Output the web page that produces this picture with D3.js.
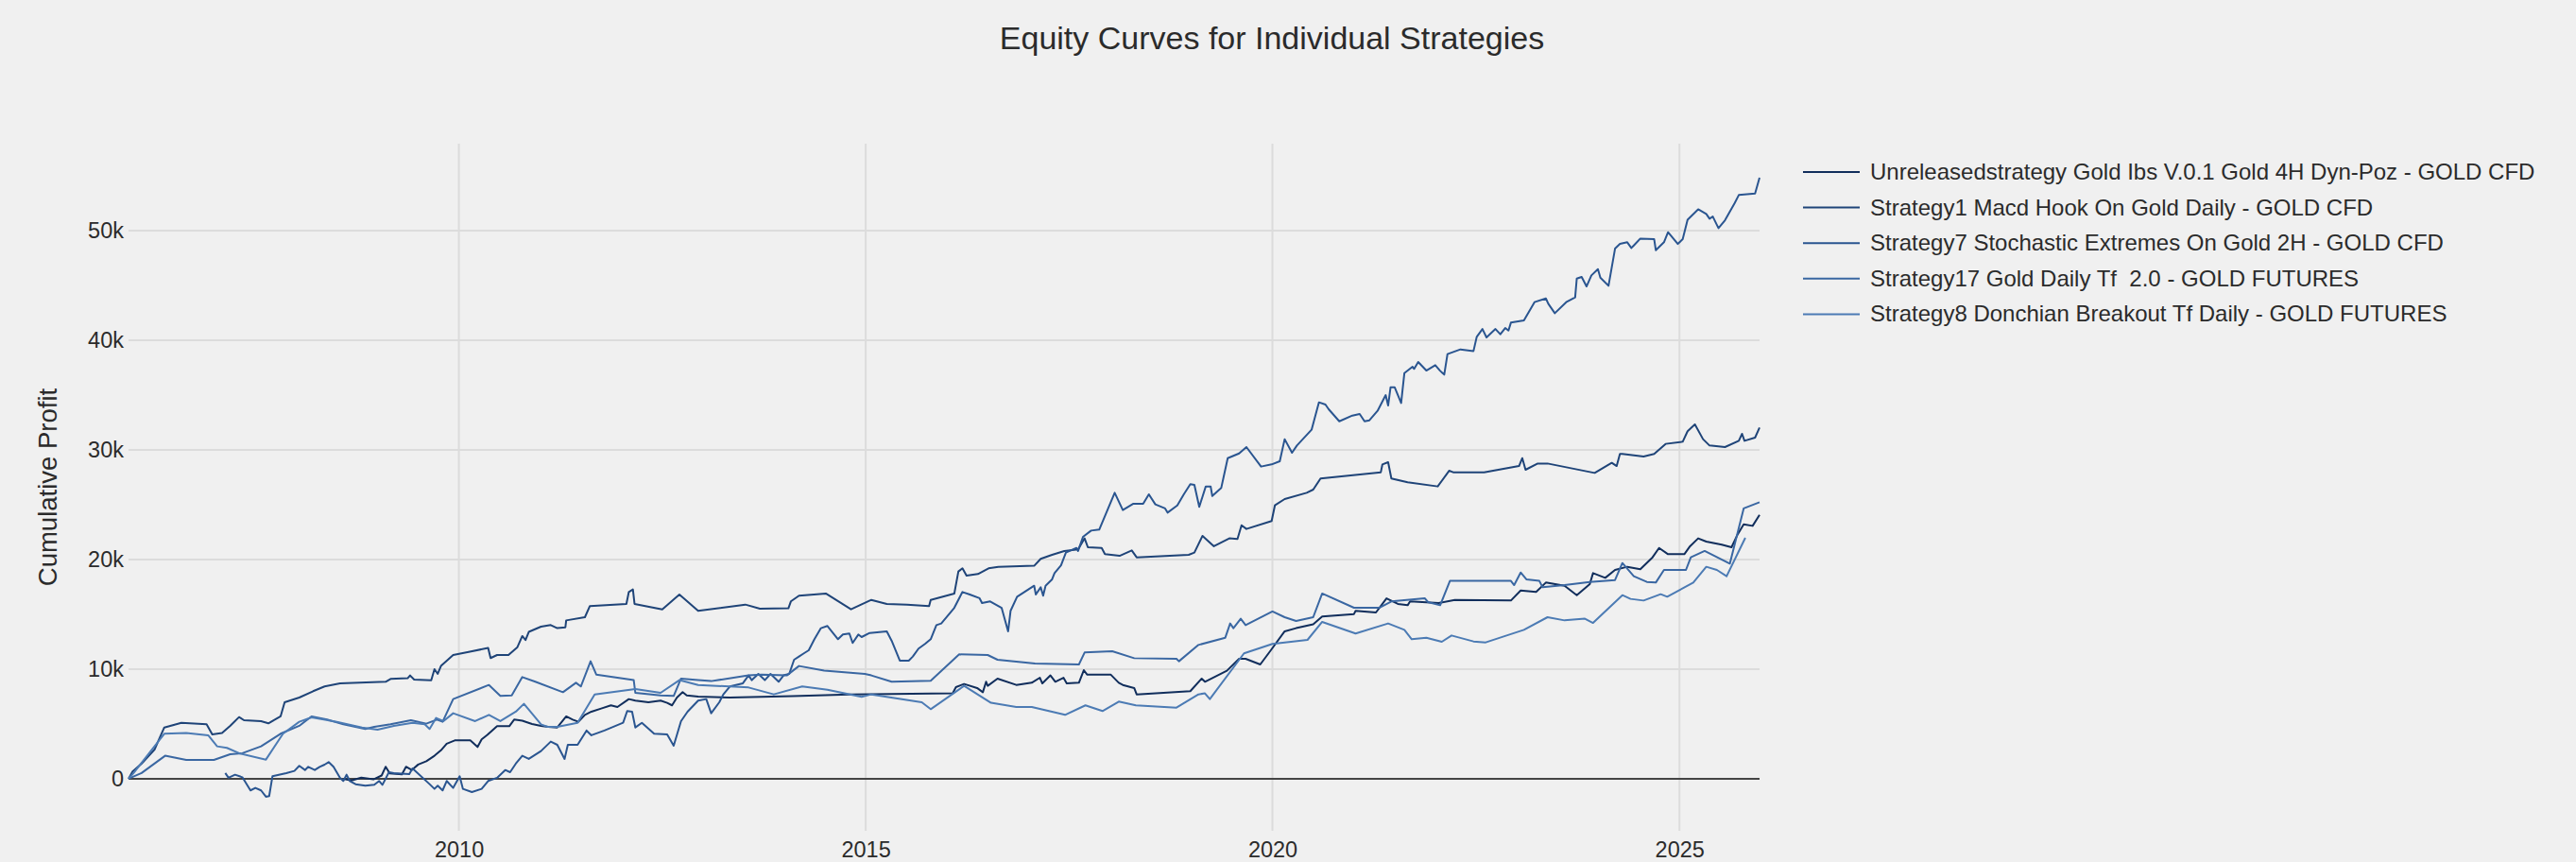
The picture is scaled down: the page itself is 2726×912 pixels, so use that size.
<!DOCTYPE html>
<html>
<head>
<meta charset="utf-8">
<script src="https://cdn.jsdelivr.net/npm/d3@7"></script>
<style>
  body { margin: 0; background: #f0f0f0; }
  text { font-family: "Liberation Sans", Arial, sans-serif; fill: #2b2b2b; }
</style>
</head>
<body>
<div id="chart"></div>
<script>
// series labels + colours (legend order)
const seriesNames = [
    "Unreleasedstrategy Gold Ibs V.0.1 Gold 4H Dyn-Poz - GOLD CFD",
    "Strategy1 Macd Hook On Gold Daily - GOLD CFD",
    "Strategy7 Stochastic Extremes On Gold 2H - GOLD CFD",
    "Strategy17 Gold Daily Tf  2.0 - GOLD FUTURES",
    "Strategy8 Donchian Breakout Tf Daily - GOLD FUTURES"
];
const seriesColors = ["#112e5c", "#1f4478", "#2a5590", "#3a67a2", "#4c7bb4"];

// dates as decimal years, profits in thousands
const unreleasedDates = [2008.58, 2008.68, 2008.8, 2008.95, 2009.05, 2009.1, 2009.15, 2009.3, 2009.35, 2009.42, 2009.5, 2009.6, 2009.7, 2009.78, 2009.85, 2009.95, 2010.14, 2010.23, 2010.28, 2010.35, 2010.47, 2010.62, 2010.68, 2010.78, 2010.9, 2011.01, 2011.1, 2011.21, 2011.32, 2011.4, 2011.47, 2011.55, 2011.63, 2011.75, 2011.87, 2011.95, 2012.09, 2012.17, 2012.33, 2012.48, 2012.56, 2012.62, 2012.68, 2012.75, 2012.8, 2012.94, 2013.33, 2014.1, 2014.8, 2016.07, 2016.11, 2016.21, 2016.37, 2016.44, 2016.48, 2016.5, 2016.62, 2016.85, 2017.04, 2017.14, 2017.17, 2017.27, 2017.33, 2017.43, 2017.47, 2017.62, 2017.68, 2017.72, 2018.01, 2018.11, 2018.16, 2018.3, 2018.33, 2018.99, 2019.13, 2019.17, 2019.44, 2019.59, 2019.67, 2019.85, 2019.98, 2020.15, 2020.29, 2020.37, 2020.5, 2020.61, 2021.0, 2021.02, 2021.27, 2021.4, 2021.54, 2021.66, 2021.69, 2022.04, 2022.24, 2022.93, 2023.05, 2023.24, 2023.36, 2023.59, 2023.74, 2023.9, 2023.94, 2024.09, 2024.21, 2024.36, 2024.52, 2024.67, 2024.75, 2024.86, 2025.06, 2025.13, 2025.23, 2025.33, 2025.52, 2025.64, 2025.71, 2025.79, 2025.9, 2025.985];
const unreleasedValues = [0, -0.15, 0.1, -0.05, 0.3, 1.1, 0.5, 0.4, 1.1, 0.8, 1.3, 1.6, 2.1, 2.6, 3.2, 3.5, 3.5, 2.9, 3.6, 4.0, 4.8, 4.8, 5.4, 5.3, 5.0, 4.83, 4.74, 4.68, 5.69, 5.4, 5.2, 5.83, 6.12, 6.41, 6.7, 6.55, 7.27, 7.13, 6.98, 7.13, 6.93, 6.7, 7.41, 7.9, 7.6, 7.5, 7.41, 7.55, 7.7, 7.8, 8.36, 8.65, 8.28, 7.9, 8.85, 8.48, 9.14, 8.56, 8.76, 9.22, 8.7, 9.43, 8.85, 9.22, 8.7, 8.76, 9.91, 9.51, 9.51, 8.76, 8.56, 8.28, 7.7, 7.99, 9.14, 8.85, 9.86, 10.95, 10.95, 10.43, 11.72, 13.45, 13.74, 13.88, 14.1, 14.8, 15.03, 15.32, 15.17, 16.46, 15.95, 15.83, 16.18, 16.03, 16.32, 16.26, 17.18, 17.04, 17.9, 17.61, 16.75, 17.76, 18.76, 18.33, 19.05, 19.34, 19.11, 20.2, 21.06, 20.49, 20.49, 21.21, 21.93, 21.64, 21.35, 21.12, 22.21, 23.22, 23.07, 24.07];

const macdDates = [2005.94, 2005.99, 2006.1, 2006.26, 2006.38, 2006.59, 2006.9, 2006.97, 2007.09, 2007.19, 2007.3, 2007.36, 2007.57, 2007.66, 2007.81, 2007.86, 2008.04, 2008.21, 2008.35, 2008.54, 2009.1, 2009.16, 2009.37, 2009.4, 2009.45, 2009.66, 2009.7, 2009.74, 2009.78, 2009.93, 2010.12, 2010.36, 2010.39, 2010.47, 2010.61, 2010.72, 2010.78, 2010.82, 2010.86, 2011.01, 2011.13, 2011.21, 2011.31, 2011.32, 2011.55, 2011.61, 2012.06, 2012.09, 2012.14, 2012.16, 2012.5, 2012.71, 2012.94, 2013.52, 2013.7, 2014.05, 2014.08, 2014.18, 2014.51, 2014.82, 2015.07, 2015.26, 2015.51, 2015.78, 2015.8, 2016.09, 2016.14, 2016.19, 2016.24, 2016.38, 2016.51, 2016.63, 2017.07, 2017.15, 2017.29, 2017.44, 2017.61, 2017.69, 2017.73, 2017.9, 2017.94, 2018.12, 2018.27, 2018.33, 2018.97, 2019.04, 2019.14, 2019.28, 2019.47, 2019.57, 2019.62, 2019.68, 2019.99, 2020.03, 2020.15, 2020.42, 2020.5, 2020.59, 2021.33, 2021.35, 2021.42, 2021.46, 2021.66, 2022.03, 2022.17, 2022.22, 2022.6, 2023.03, 2023.07, 2023.11, 2023.26, 2023.38, 2023.96, 2024.17, 2024.23, 2024.27, 2024.3, 2024.56, 2024.69, 2024.83, 2025.04, 2025.1, 2025.19, 2025.29, 2025.37, 2025.56, 2025.73, 2025.77, 2025.8, 2025.93, 2025.985];
const macdValues = [0, 0.66, 1.38, 2.67, 4.68, 5.11, 4.97, 4.05, 4.17, 4.83, 5.63, 5.34, 5.26, 5.06, 5.69, 6.98, 7.41, 7.99, 8.42, 8.71, 8.85, 9.11, 9.17, 9.43, 9.05, 8.99, 10.0, 9.57, 10.29, 11.29, 11.58, 11.93, 11.01, 11.29, 11.29, 12.01, 13.02, 12.65, 13.4, 13.88, 14.02, 13.74, 13.82, 14.45, 14.74, 15.75, 15.95, 17.04, 17.27, 15.95, 15.46, 16.81, 15.32, 15.89, 15.52, 15.55, 16.18, 16.7, 16.9, 15.46, 16.32, 15.95, 15.89, 15.75, 16.32, 16.9, 18.91, 19.2, 18.53, 18.68, 19.2, 19.34, 19.43, 20.06, 20.43, 20.78, 20.92, 21.93, 21.12, 21.06, 20.49, 20.34, 20.83, 20.2, 20.43, 20.63, 22.16, 21.21, 21.93, 21.87, 23.13, 22.79, 23.51, 24.94, 25.52, 26.09, 26.38, 27.39, 27.96, 28.68, 28.88, 27.39, 27.04, 26.67, 28.1, 27.96, 27.96, 28.53, 29.25, 28.19, 28.76, 28.76, 27.9, 28.82, 28.53, 29.63, 29.63, 29.4, 29.63, 30.55, 30.75, 31.7, 32.33, 30.98, 30.4, 30.26, 30.83, 31.47, 30.83, 31.12, 32.04];

const stochDates = [2007.13, 2007.17, 2007.25, 2007.34, 2007.44, 2007.5, 2007.57, 2007.63, 2007.67, 2007.71, 2007.88, 2007.98, 2008.04, 2008.11, 2008.15, 2008.23, 2008.29, 2008.35, 2008.4, 2008.46, 2008.54, 2008.58, 2008.62, 2008.66, 2008.73, 2008.85, 2008.96, 2009.02, 2009.06, 2009.14, 2009.2, 2009.39, 2009.43, 2009.64, 2009.7, 2009.74, 2009.8, 2009.85, 2009.93, 2010.01, 2010.05, 2010.16, 2010.28, 2010.36, 2010.47, 2010.57, 2010.63, 2010.7, 2010.78, 2010.86, 2011.01, 2011.13, 2011.21, 2011.3, 2011.34, 2011.46, 2011.57, 2011.63, 2011.79, 2012.02, 2012.07, 2012.13, 2012.17, 2012.25, 2012.4, 2012.56, 2012.64, 2012.73, 2012.81, 2012.94, 2013.04, 2013.1, 2013.2, 2013.25, 2013.33, 2013.49, 2013.56, 2013.6, 2013.68, 2013.76, 2013.83, 2013.93, 2013.99, 2014.06, 2014.12, 2014.18, 2014.24, 2014.3, 2014.37, 2014.45, 2014.53, 2014.66, 2014.72, 2014.8, 2014.84, 2014.91, 2014.95, 2015.05, 2015.26, 2015.32, 2015.42, 2015.53, 2015.58, 2015.65, 2015.73, 2015.8, 2015.87, 2015.93, 2016.09, 2016.19, 2016.28, 2016.4, 2016.43, 2016.53, 2016.67, 2016.75, 2016.78, 2016.86, 2017.07, 2017.09, 2017.15, 2017.18, 2017.21, 2017.29, 2017.32, 2017.4, 2017.46, 2017.59, 2017.61, 2017.67, 2017.77, 2017.87, 2018.06, 2018.16, 2018.29, 2018.41, 2018.48, 2018.56, 2018.68, 2018.71, 2018.83, 2018.91, 2018.99, 2019.04, 2019.1, 2019.18, 2019.24, 2019.26, 2019.37, 2019.45, 2019.59, 2019.68, 2019.86, 2019.99, 2020.09, 2020.15, 2020.24, 2020.3, 2020.48, 2020.57, 2020.65, 2020.69, 2020.82, 2020.98, 2021.07, 2021.13, 2021.19, 2021.29, 2021.36, 2021.39, 2021.42, 2021.45, 2021.5, 2021.58, 2021.62, 2021.72, 2021.74, 2021.79, 2021.89, 2022.0, 2022.06, 2022.11, 2022.15, 2022.31, 2022.47, 2022.51, 2022.58, 2022.63, 2022.74, 2022.8, 2022.86, 2022.9, 2022.93, 2023.09, 2023.22, 2023.36, 2023.39, 2023.47, 2023.61, 2023.72, 2023.74, 2023.8, 2023.86, 2023.92, 2024.0, 2024.03, 2024.13, 2024.21, 2024.27, 2024.36, 2024.41, 2024.44, 2024.52, 2024.69, 2024.71, 2024.81, 2024.86, 2024.98, 2025.04, 2025.1, 2025.23, 2025.33, 2025.37, 2025.41, 2025.48, 2025.56, 2025.68, 2025.73, 2025.93, 2025.985];
const stochValues = [0.52, 0.09, 0.37, 0.14, -1.06, -0.83, -1.06, -1.64, -1.58, 0.23, 0.52, 0.72, 1.18, 0.8, 1.09, 0.8, 1.09, 1.29, 1.52, 1.09, 0.09, -0.2, 0.37, -0.2, -0.49, -0.63, -0.55, -0.2, -0.55, 0.6, 0.52, 0.43, 0.95, -0.49, -0.92, -0.63, -1.06, -0.2, -0.83, 0.23, -0.92, -1.21, -0.92, -0.2, 0.09, 0.8, 0.6, 1.38, 2.1, 1.81, 2.53, 3.39, 3.1, 1.81, 3.1, 3.1, 4.4, 3.97, 4.4, 5.11, 6.18, 6.12, 4.68, 5.11, 4.11, 4.05, 3.02, 5.26, 6.12, 7.13, 7.27, 5.98, 6.98, 7.7, 8.42, 8.71, 9.43, 9.0, 9.57, 9.0, 9.57, 8.85, 9.43, 9.57, 10.86, 11.15, 11.44, 11.72, 12.73, 13.74, 13.94, 12.73, 13.16, 13.25, 12.39, 13.16, 12.93, 13.3, 13.45, 12.59, 10.78, 10.78, 11.15, 11.87, 12.3, 12.73, 14.02, 14.17, 15.6, 17.04, 16.81, 16.47, 16.03, 16.18, 15.6, 13.45, 15.32, 16.61, 17.61, 16.81, 17.47, 16.7, 17.61, 18.19, 18.76, 19.48, 20.63, 21.06, 20.78, 22.07, 22.64, 22.73, 26.09, 24.51, 25.09, 25.09, 25.95, 25.03, 24.66, 24.28, 24.94, 25.95, 26.87, 26.81, 24.8, 26.67, 26.67, 25.8, 26.52, 29.25, 29.68, 30.26, 28.48, 28.68, 28.97, 30.98, 29.74, 30.4, 31.84, 34.34, 34.14, 33.71, 32.61, 33.13, 33.28, 32.61, 32.7, 33.56, 34.57, 35.0, 34.05, 35.72, 35.72, 34.28, 37.01, 37.59, 37.39, 38.02, 37.24, 37.73, 37.21, 36.87, 38.74, 39.17, 39.02, 40.32, 41.03, 40.26, 41.03, 40.55, 41.12, 40.89, 41.61, 41.81, 43.48, 43.82, 43.33, 42.47, 43.48, 43.91, 45.63, 45.78, 44.91, 45.92, 46.49, 45.72, 44.97, 48.36, 48.79, 48.94, 48.42, 48.65, 49.28, 49.22, 48.22, 48.94, 49.86, 48.79, 49.22, 51.0, 51.95, 51.52, 51.09, 51.29, 50.23, 50.95, 52.53, 53.25, 53.39, 54.83];

const dailyTfDates = [2005.94, 2006.1, 2006.39, 2006.65, 2006.99, 2007.19, 2007.34, 2007.57, 2007.81, 2008.04, 2008.19, 2008.38, 2008.58, 2008.85, 2008.96, 2009.16, 2009.41, 2009.6, 2009.73, 2009.8, 2009.93, 2010.37, 2010.51, 2010.65, 2010.78, 2010.94, 2011.28, 2011.44, 2011.5, 2011.62, 2011.69, 2012.15, 2012.17, 2012.48, 2012.64, 2012.73, 2012.94, 2013.1, 2013.56, 2013.72, 2014.03, 2014.18, 2014.49, 2014.99, 2015.07, 2015.32, 2015.8, 2016.15, 2016.5, 2016.62, 2017.08, 2017.62, 2017.69, 2018.03, 2018.3, 2018.82, 2018.85, 2019.09, 2019.42, 2019.48, 2019.52, 2019.61, 2019.67, 2020.0, 2020.15, 2020.29, 2020.5, 2020.61, 2021.0, 2021.31, 2021.46, 2021.87, 2021.91, 2022.06, 2022.18, 2022.93, 2022.97, 2023.05, 2023.12, 2023.28, 2023.32, 2023.59, 2023.9, 2024.21, 2024.3, 2024.44, 2024.6, 2024.71, 2024.81, 2025.08, 2025.14, 2025.31, 2025.62, 2025.79, 2025.985];
const dailyTfValues = [0, 0.52, 2.1, 1.72, 1.72, 2.24, 2.33, 2.96, 4.11, 4.83, 5.69, 5.4, 4.97, 4.54, 4.74, 4.97, 5.34, 5.03, 5.4, 5.2, 7.27, 8.56, 7.56, 7.6, 9.28, 8.85, 7.9, 8.76, 8.42, 10.72, 9.51, 9.0, 7.84, 7.61, 7.56, 9.14, 9.0, 8.91, 9.43, 9.51, 9.43, 10.29, 9.86, 9.57, 9.43, 8.85, 8.94, 11.35, 11.29, 10.86, 10.52, 10.43, 11.52, 11.64, 11.0, 10.95, 10.72, 12.21, 12.87, 14.17, 13.74, 14.6, 14.02, 15.26, 14.74, 14.4, 14.74, 16.9, 15.6, 15.6, 16.18, 16.47, 16.12, 15.83, 18.05, 18.05, 17.67, 18.82, 18.19, 18.05, 17.47, 17.67, 17.96, 18.13, 19.68, 18.48, 17.96, 17.9, 19.05, 19.05, 20.2, 20.78, 19.63, 24.66, 25.23];

const donchianDates = [2005.94, 2006.0, 2006.38, 2006.65, 2006.92, 2007.03, 2007.15, 2007.3, 2007.63, 2007.84, 2008.04, 2008.19, 2008.5, 2008.81, 2009.0, 2009.2, 2009.43, 2009.58, 2009.64, 2009.72, 2009.81, 2009.93, 2010.2, 2010.37, 2010.51, 2010.7, 2010.8, 2011.01, 2011.09, 2011.21, 2011.46, 2011.67, 2012.17, 2012.48, 2012.71, 2012.94, 2013.56, 2013.87, 2014.22, 2014.53, 2014.95, 2015.07, 2015.69, 2015.8, 2016.21, 2016.54, 2016.85, 2017.04, 2017.45, 2017.7, 2017.91, 2018.11, 2018.32, 2018.82, 2019.09, 2019.17, 2019.23, 2019.65, 2020.0, 2020.43, 2020.61, 2021.02, 2021.42, 2021.62, 2021.71, 2021.89, 2022.08, 2022.2, 2022.47, 2022.62, 2023.09, 2023.38, 2023.59, 2023.84, 2023.94, 2024.3, 2024.4, 2024.56, 2024.77, 2024.85, 2025.17, 2025.33, 2025.46, 2025.58, 2025.81];
const donchianValues = [0, 0.5, 4.11, 4.17, 3.97, 2.96, 2.82, 2.33, 1.75, 4.11, 5.2, 5.6, 5.2, 4.68, 4.48, 4.83, 5.11, 4.97, 4.54, 5.55, 5.26, 5.98, 5.26, 5.83, 5.26, 6.12, 6.84, 4.97, 4.74, 4.74, 5.11, 7.7, 8.19, 7.84, 9.0, 8.56, 8.33, 7.7, 8.42, 8.13, 7.47, 7.7, 6.98, 6.35, 8.48, 6.93, 6.55, 6.55, 5.83, 6.7, 6.18, 7.04, 6.7, 6.49, 7.7, 7.79, 7.27, 11.44, 12.3, 12.67, 14.31, 13.25, 14.17, 13.59, 12.73, 12.87, 12.5, 13.07, 12.53, 12.44, 13.59, 14.74, 14.45, 14.6, 14.22, 16.75, 16.41, 16.26, 16.84, 16.61, 17.9, 19.34, 19.05, 18.48, 21.98];

const yTickValues = [0, 10, 20, 30, 40, 50];
const yTickLabels = ["0", "10k", "20k", "30k", "40k", "50k"];
const xTickYears = [2010, 2015, 2020, 2025];

function toDate(y) {
    const yr = Math.floor(y);
    const start = new Date(yr, 0, 1), end = new Date(yr + 1, 0, 1);
    return new Date(+start + (y - yr) * (end - start));
}

function pairUp(dates, values) {
    return dates.map((d, i) => ({ date: toDate(d), value: values[i] }));
}

const series = [
    pairUp(unreleasedDates, unreleasedValues),
    pairUp(macdDates, macdValues),
    pairUp(stochDates, stochValues),
    pairUp(dailyTfDates, dailyTfValues),
    pairUp(donchianDates, donchianValues)
];

const W = 2726, H = 912;
const margin = {top: 152, right: 864, bottom: 33, left: 136};
const width = W - margin.left - margin.right,
    height = H - margin.top - margin.bottom;

const svg = d3.select("#chart").append("svg")
    .attr("width", W)
    .attr("height", H)
    .style("background", "#f0f0f0");

const g = svg.append("g")
    .attr("transform", `translate(${margin.left}, ${margin.top})`);

const allPoints = series.flat();

// x: full data extent, like an autoranged time axis
const x = d3.scaleTime()
    .domain(d3.extent(allPoints, d => d.date))
    .range([0, width]);

// y: data extent plus a bit of padding on each side
const yMin = d3.min(allPoints, d => d.value), yMax = d3.max(allPoints, d => d.value);
const pad = (yMax - yMin) * 0.055;
const y = d3.scaleLinear()
    .domain([yMin - pad, yMax + pad])
    .range([height, 0]);

// grid
g.append("g")
    .selectAll("line")
    .data(yTickValues)
    .join("line")
    .attr("x1", 0).attr("x2", width)
    .attr("y1", d => y(d)).attr("y2", d => y(d))
    .attr("stroke", "#dcdcdc")
    .attr("stroke-width", 2);

g.append("g")
    .selectAll("line")
    .data(xTickYears)
    .join("line")
    .attr("x1", d => x(new Date(d, 0, 1))).attr("x2", d => x(new Date(d, 0, 1)))
    .attr("y1", 0).attr("y2", height)
    .attr("stroke", "#dcdcdc")
    .attr("stroke-width", 2);

// zero line
g.append("line")
    .attr("x1", 0).attr("x2", width)
    .attr("y1", y(0)).attr("y2", y(0))
    .attr("stroke", "#444")
    .attr("stroke-width", 2);

// axes
const yAxis = g.append("g")
    .call(d3.axisLeft(y)
        .tickValues(yTickValues)
        .tickFormat((d, i) => yTickLabels[i])
        .tickSize(0)
        .tickPadding(5));
yAxis.select(".domain").remove();
yAxis.selectAll("text")
    .style("font-size", "23.5px")
    .style("font-family", '"Liberation Sans", Arial, sans-serif')
    .attr("fill", "#2b2b2b");

const xAxis = g.append("g")
    .attr("transform", `translate(0, ${height})`)
    .call(d3.axisBottom(x)
        .tickValues(xTickYears.map(d => new Date(d, 0, 1)))
        .tickFormat(d3.timeFormat("%Y"))
        .tickSize(0)
        .tickPadding(11));
xAxis.select(".domain").remove();
xAxis.selectAll("text")
    .style("font-size", "23.5px")
    .style("font-family", '"Liberation Sans", Arial, sans-serif')
    .attr("fill", "#2b2b2b");

// curves
const line = d3.line()
    .x(d => x(d.date))
    .y(d => y(d.value));

g.selectAll("path.curve")
    .data(series)
    .join("path")
    .attr("class", "curve")
    .attr("d", line)
    .attr("fill", "none")
    .attr("stroke", (d, i) => seriesColors[i])
    .attr("stroke-width", 2)
    .attr("stroke-linejoin", "round");

// titles
svg.append("text")
    .attr("x", 1346)
    .attr("y", 52)
    .attr("text-anchor", "middle")
    .style("font-size", "34px")
    .text("Equity Curves for Individual Strategies");

svg.append("text")
    .attr("transform", `translate(60, ${margin.top + height / 2}) rotate(-90)`)
    .attr("text-anchor", "middle")
    .style("font-size", "27.5px")
    .text("Cumulative Profit");

// legend
const legend = svg.append("g")
    .attr("transform", "translate(1908, 182)");

const rows = legend.selectAll("g")
    .data(seriesNames)
    .join("g")
    .attr("transform", (d, i) => `translate(0, ${i * 37.6})`);

rows.append("line")
    .attr("x1", 0).attr("x2", 60)
    .attr("stroke", (d, i) => seriesColors[i])
    .attr("stroke-width", 2);

rows.append("text")
    .attr("x", 71)
    .attr("y", 8)
    .style("font-size", "24px")
    .style("white-space", "pre")
    .text(d => d);
</script>
</body>
</html>
